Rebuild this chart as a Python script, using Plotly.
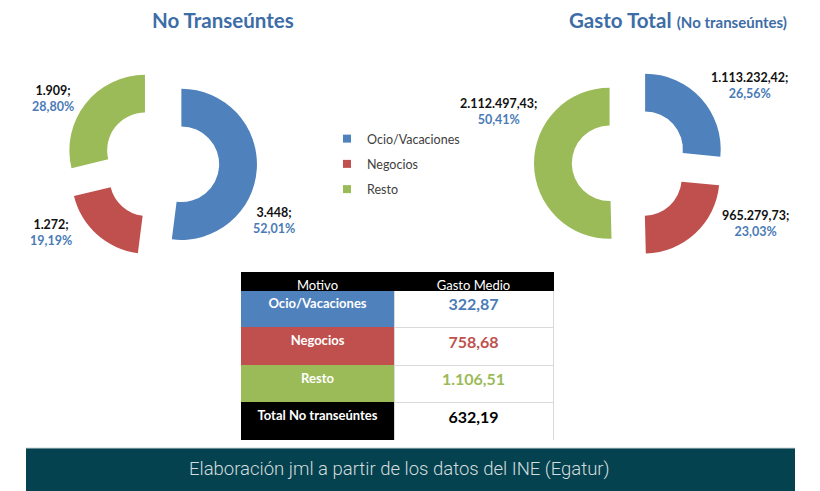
import plotly.graph_objects as go

# ---------------- data ----------------
motivos = ["Ocio/Vacaciones", "Negocios", "Resto"]
no_transeuntes = [3448, 1272, 1909]
gasto_total = [1113232.42, 965279.73, 2112497.43]
gasto_medio_labels = ["Ocio/Vacaciones", "Negocios", "Resto", "Total No transeúntes"]
gasto_medio = [322.87, 758.68, 1106.51, 632.19]
table_header = ["Motivo", "Gasto Medio"]

colors = ["#4F81BD", "#C0504D", "#9BBB59"]
title_color = "#3D6DA6"
pct_color = "#4A7BB7"
FONT = "Lato"


def es_num(v, dec):
    s = f"{v:,.{dec}f}"
    return s.replace(",", "X").replace(".", ",").replace("X", ".")


def es_pct(v, total):
    return es_num(100 * v / total, 2) + "%"


# page has an 8px body margin; figure sized to fit the window exactly
OFF = 8
W, H = 820 - OFF, 491 - OFF


def px(x):  # screen x -> paper fraction
    return (x - OFF) / W


def py(y):  # screen y -> paper fraction
    return 1 - (y - OFF) / H


fig = go.Figure()

pull = 0.27
S = 96  # half-size of pie box (screen px)
fig.add_trace(go.Pie(
    labels=motivos, values=no_transeuntes, hole=0.5, sort=False,
    direction="clockwise", rotation=0, pull=[pull] * 3,
    marker=dict(colors=colors, line=dict(width=0)),
    textinfo="none", hoverinfo="label+value+percent",
    domain=dict(x=[px(161 - S), px(161 + S)], y=[py(163 + S), py(163 - S)]),
    showlegend=False,
))
fig.add_trace(go.Pie(
    labels=motivos, values=gasto_total, hole=0.5, sort=False,
    direction="clockwise", rotation=0, pull=[pull] * 3,
    marker=dict(colors=colors, line=dict(width=0)),
    textinfo="none", hoverinfo="label+value+percent",
    domain=dict(x=[px(630 - S), px(630 + S)], y=[py(163 + S), py(163 - S)]),
    showlegend=False,
))

# legend entries (one per motivo)
for i, m in enumerate(motivos):
    fig.add_trace(go.Scatter(
        x=[None], y=[None], mode="markers", name=m,
        marker=dict(symbol="square", size=8, color=colors[i]),
        legendgroup=m, showlegend=True, hoverinfo="skip",
    ))

# table
fill_col1 = colors + ["#000000"]
val_colors = [pct_color, "#C0504D", "#9BBB59", "#000000"]
fig.add_trace(go.Table(
    domain=dict(x=[px(241), px(553)], y=[py(441), py(272)]),
    columnwidth=[153, 159],
    header=dict(
        values=table_header,
        fill_color="#000000",
        line=dict(color="#000000", width=1),
        font=dict(family=FONT, size=13, color="#FFFFFF"),
        align="center", height=18,
    ),
    cells=dict(
        values=[gasto_medio_labels, [es_num(v, 2) for v in gasto_medio]],
        fill_color=[fill_col1, ["#FFFFFF"] * 4],
        line=dict(color=[fill_col1, ["#D9D9D9"] * 4], width=1),
        font=dict(family=FONT, size=[13, 16],
                  color=[["#FFFFFF"] * 4, val_colors],
                  weight="bold"),
        align="center", height=37.5,
    ),
))

annotations = []
# titles
annotations.append(dict(x=px(223), y=py(20), xref="paper", yref="paper",
                        xanchor="center", yanchor="middle",
                        text="<b>No Transeúntes</b>", showarrow=False,
                        font=dict(family=FONT, size=20.5, color=title_color)))
annotations.append(dict(x=px(678), y=py(20), xref="paper", yref="paper",
                        xanchor="center", yanchor="middle",
                        text="<b>Gasto Total</b> <b><span style='font-size:15px'>(No transeúntes)</span></b>",
                        showarrow=False,
                        font=dict(family=FONT, size=20.5, color=title_color)))

# data labels
tot1 = sum(no_transeuntes)
tot2 = sum(gasto_total)
pos1 = [(274, 220), (51, 232), (53, 99)]
pos2 = [(750, 85), (755, 223), (499, 111)]
for i in range(3):
    t = f"<b>{es_num(no_transeuntes[i], 0)};</b><br><b><span style='color:{pct_color}'>{es_pct(no_transeuntes[i], tot1)}</span></b>"
    annotations.append(dict(x=px(pos1[i][0]), y=py(pos1[i][1]), xref="paper", yref="paper",
                            xanchor="center", yanchor="middle",
                            text=t, showarrow=False, align="center",
                            font=dict(family=FONT, size=12.5, color="#111111")))
    t = f"<b>{es_num(gasto_total[i], 2)};</b><br><b><span style='color:{pct_color}'>{es_pct(gasto_total[i], tot2)}</span></b>"
    annotations.append(dict(x=px(pos2[i][0]), y=py(pos2[i][1]), xref="paper", yref="paper",
                            xanchor="center", yanchor="middle",
                            text=t, showarrow=False, align="center",
                            font=dict(family=FONT, size=12.5, color="#111111")))

# footer
annotations.append(dict(x=px(399), y=py(469), xref="paper", yref="paper",
                        xanchor="center", yanchor="middle",
                        text="Elaboración jml a partir de los datos del INE (Egatur)",
                        showarrow=False,
                        font=dict(family="Roboto", size=18.5, color="#D3DCDE", weight=300)))

shapes = [
    dict(type="rect", xref="paper", yref="paper", x0=px(26), x1=px(795), y0=0, y1=py(448),
         fillcolor="#05424F", line=dict(width=0), layer="below"),
    dict(type="line", xref="paper", yref="paper", x0=px(26), x1=px(795), y0=py(448), y1=py(448),
         line=dict(color="#C9D2D6", width=1)),
]

fig.update_layout(
    width=W, height=H,
    margin=dict(l=0, r=0, t=0, b=0),
    paper_bgcolor="#FFFFFF", plot_bgcolor="#FFFFFF",
    xaxis=dict(visible=False), yaxis=dict(visible=False),
    annotations=annotations, shapes=shapes,
    legend=dict(x=px(327), y=py(124), xanchor="left", yanchor="top",
                font=dict(family=FONT, size=12.5, color="#404040"),
                bgcolor="rgba(0,0,0,0)", traceorder="grouped", tracegroupgap=6),
)

fig.write_html("out.html")
